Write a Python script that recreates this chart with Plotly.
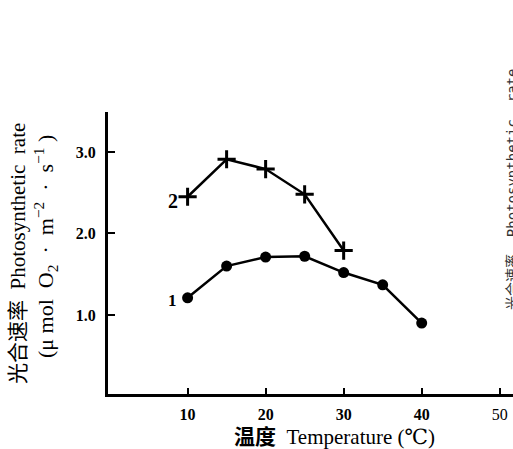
import plotly.graph_objects as go

temps1 = [10, 15, 20, 25, 30, 35, 40]
rate1 = [1.21, 1.60, 1.71, 1.72, 1.52, 1.37, 0.90]
temps2 = [10, 15, 20, 25, 30]
rate2 = [2.45, 2.91, 2.79, 2.48, 1.79]
xticks = [10, 20, 30, 40, 50]
xtick_text = ["<b>10</b>", "<b>20</b>", "<b>30</b>", "<b>40</b>", "50"]
yticks = [1.0, 2.0, 3.0]
ytick_text = ["1.0", "2.0", "3.0"]
series_names = ["1", "2"]

serif = "Liberation Serif, DejaVu Serif, Noto Sans CJK SC, serif"

fig = go.Figure()
fig.add_trace(go.Scatter(
    x=temps1, y=rate1, mode="lines+markers",
    line=dict(color="black", width=2.5),
    marker=dict(symbol="circle", size=11, color="black"),
    showlegend=False))
fig.add_trace(go.Scatter(
    x=temps2, y=rate2, mode="lines+markers",
    line=dict(color="black", width=2.5),
    marker=dict(symbol="cross-thin", size=13, color="black",
                line=dict(color="black", width=3)),
    showlegend=False))

annotations = [
    dict(x=temps1[0], y=rate1[0], xref="x", yref="y", text="<b>" + series_names[0] + "</b>",
         showarrow=False, xanchor="right", xshift=-9, yshift=-3,
         font=dict(family=serif, size=17, color="black")),
    dict(x=temps2[0], y=rate2[0], xref="x", yref="y", text="<b>" + series_names[1] + "</b>",
         showarrow=False, xanchor="right", xshift=-8, yshift=-4,
         font=dict(family=serif, size=20, color="black")),
    dict(x=18, y=254, xref="pixel", yref="pixel", text="光合速率  Photosynthetic  rate",
         showarrow=False, textangle=-90, xanchor="center", yanchor="middle",
         font=dict(family=serif, size=21, color="black")),
    dict(x=45, y=247, xref="pixel", yref="pixel",
         text="(μ mol  O<sub>2</sub>  ·  m<sup>−2</sup>  ·  s<sup>−1</sup> )",
         showarrow=False, textangle=-90, xanchor="center", yanchor="middle",
         font=dict(family=serif, size=22, color="black")),
    dict(x=334, y=437, xref="pixel", yref="pixel", text="<b>温度</b>  Temperature (℃)",
         showarrow=False, xanchor="center", yanchor="middle",
         font=dict(family=serif, size=21, color="black")),
    dict(x=512, y=190, xref="pixel", yref="pixel", text="光合速率  Photosynthetic  rate",
         showarrow=False, textangle=-90, xanchor="center", yanchor="middle",
         font=dict(family="DejaVu Sans Mono, Noto Sans CJK SC, monospace", size=14, color="#333")),
]

# convert pixel-ref annotations to paper coords
W, H = 513, 449
ml, mr, mt, mb = 108, 0, 112, 55
pw, ph = W - ml - mr, H - mt - mb
for a in annotations:
    if a.get("xref") == "pixel":
        a["xref"] = "paper"
        a["yref"] = "paper"
        a["x"] = (a["x"] - ml) / pw
        a["y"] = (H - mb - a["y"]) / ph

fig.update_layout(
    width=W, height=H,
    margin=dict(l=ml, r=mr, t=mt, b=mb),
    paper_bgcolor="white", plot_bgcolor="white",
    annotations=annotations,
    xaxis=dict(range=[-0.2, 51.7], tickvals=xticks, ticktext=xtick_text,
               ticks="inside", ticklen=6,
               tickwidth=2, tickcolor="black", showgrid=False, zeroline=False,
               showline=True, linecolor="black", linewidth=3,
               tickfont=dict(family=serif, size=16, color="black"),
               ticklabelstandoff=4),
    yaxis=dict(range=[0.03, 3.49], tickvals=yticks, ticktext=["<b>" + t + "</b>" for t in ytick_text],
               ticks="inside",
               ticklen=7, tickwidth=2, tickcolor="black", showgrid=False,
               zeroline=False, showline=True, linecolor="black", linewidth=3,
               tickfont=dict(family=serif, size=16, color="black"),
               ticklabelstandoff=6),
)

fig.write_html("out.html", config={"displayModeBar": False},
               post_script="document.body.style.margin='0';document.body.style.overflow='hidden';")
